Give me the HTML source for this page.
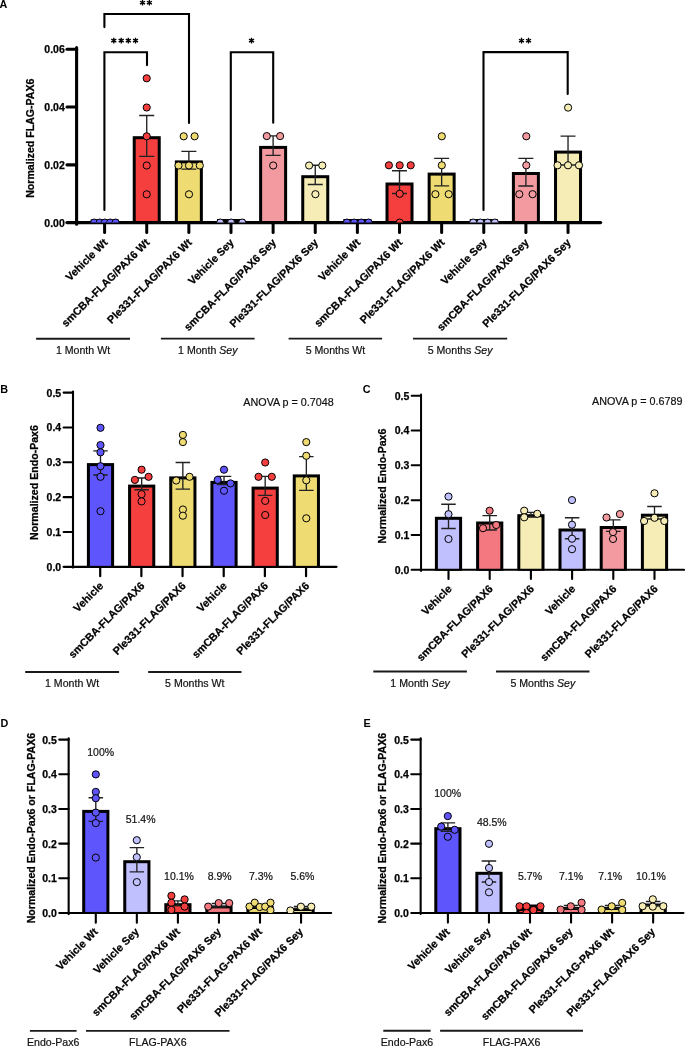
<!DOCTYPE html>
<html><head><meta charset="utf-8"><style>
html,body{margin:0;padding:0;background:#fff;}
svg{display:block;will-change:transform;}
text{font-family:"Liberation Sans", sans-serif;}
.pl{font-size:10.8px;font-weight:bold;fill:#000;}
.tk{font-size:10.5px;font-weight:bold;fill:#000;stroke:#000;stroke-width:0.25px;}
.yl{font-size:10.6px;font-weight:bold;fill:#000;stroke:#000;stroke-width:0.25px;}
.xl{font-size:10.8px;font-weight:bold;fill:#000;stroke:#000;stroke-width:0.25px;}
.gl{font-size:10.6px;fill:#111;stroke:#111;stroke-width:0.2px;}
.an{font-size:10.75px;fill:#111;stroke:#111;stroke-width:0.2px;}
.pc{font-size:10.5px;fill:#111;stroke:#111;stroke-width:0.2px;}
.st{font-size:12px;fill:#000;}
</style></head><body>
<svg width="685" height="1046" viewBox="0 0 685 1046">
<rect width="685" height="1046" fill="#fff"/>
<text x="-0.4" y="8.2" class="pl">A</text>
<clipPath id="cA"><rect x="0" y="0" width="685" height="222.6"/></clipPath>
<line x1="76.6" y1="47.6" x2="76.6" y2="224.3" stroke="#000" stroke-width="3.1" stroke-linecap="round"/>
<line x1="76.6" y1="222.6" x2="600.5" y2="222.6" stroke="#000" stroke-width="3.4" stroke-linecap="round"/>
<line x1="67.00" y1="49.30" x2="76.6" y2="49.30" stroke="#000" stroke-width="3.1" stroke-linecap="round"/>
<text x="64.80" y="53.20" text-anchor="end" class="tk">0.06</text>
<line x1="67.00" y1="107.07" x2="76.6" y2="107.07" stroke="#000" stroke-width="3.1" stroke-linecap="round"/>
<text x="64.80" y="110.97" text-anchor="end" class="tk">0.04</text>
<line x1="67.00" y1="164.83" x2="76.6" y2="164.83" stroke="#000" stroke-width="3.1" stroke-linecap="round"/>
<text x="64.80" y="168.73" text-anchor="end" class="tk">0.02</text>
<line x1="67.00" y1="222.60" x2="76.6" y2="222.60" stroke="#000" stroke-width="3.4" stroke-linecap="round"/>
<text x="64.80" y="226.50" text-anchor="end" class="tk">0.00</text>
<text x="34.4" y="138.2" text-anchor="middle" class="yl" transform="rotate(-90 34.4 138.2)">Normalized FLAG-PAX6</text>
<line x1="104.6" y1="222.6" x2="104.6" y2="232.4" stroke="#000" stroke-width="3" stroke-linecap="round"/>
<line x1="146.73" y1="222.6" x2="146.73" y2="232.4" stroke="#000" stroke-width="3" stroke-linecap="round"/>
<line x1="188.86" y1="222.6" x2="188.86" y2="232.4" stroke="#000" stroke-width="3" stroke-linecap="round"/>
<line x1="230.99" y1="222.6" x2="230.99" y2="232.4" stroke="#000" stroke-width="3" stroke-linecap="round"/>
<line x1="273.12" y1="222.6" x2="273.12" y2="232.4" stroke="#000" stroke-width="3" stroke-linecap="round"/>
<line x1="315.25" y1="222.6" x2="315.25" y2="232.4" stroke="#000" stroke-width="3" stroke-linecap="round"/>
<line x1="357.38" y1="222.6" x2="357.38" y2="232.4" stroke="#000" stroke-width="3" stroke-linecap="round"/>
<line x1="399.51" y1="222.6" x2="399.51" y2="232.4" stroke="#000" stroke-width="3" stroke-linecap="round"/>
<line x1="441.64" y1="222.6" x2="441.64" y2="232.4" stroke="#000" stroke-width="3" stroke-linecap="round"/>
<line x1="483.77" y1="222.6" x2="483.77" y2="232.4" stroke="#000" stroke-width="3" stroke-linecap="round"/>
<line x1="525.9" y1="222.6" x2="525.9" y2="232.4" stroke="#000" stroke-width="3" stroke-linecap="round"/>
<line x1="568.03" y1="222.6" x2="568.03" y2="232.4" stroke="#000" stroke-width="3" stroke-linecap="round"/>
<rect x="90.60" y="219.50" width="28.0" height="4.10" fill="#000"/>
<g clip-path="url(#cA)">
<circle cx="94.2" cy="222.6" r="3.6" fill="#5f55fd" stroke="#000" stroke-width="1"/>
<circle cx="99.7" cy="222.6" r="3.6" fill="#5f55fd" stroke="#000" stroke-width="1"/>
<circle cx="104.9" cy="222.6" r="3.6" fill="#5f55fd" stroke="#000" stroke-width="1"/>
<circle cx="110.2" cy="222.6" r="3.6" fill="#5f55fd" stroke="#000" stroke-width="1"/>
<circle cx="115.60000000000001" cy="222.6" r="3.6" fill="#5f55fd" stroke="#000" stroke-width="1"/>
</g>
<rect x="132.73" y="136.20" width="28.0" height="87.40" fill="#000"/>
<rect x="135.73" y="139.20" width="22.0" height="81.80" fill="#f53f3f"/>
<path d="M146.73 115.5V156.4M139.23 115.5H154.23M139.23 156.4H154.23" stroke="#222" stroke-width="1.35" fill="none"/>
<g clip-path="url(#cA)">
<circle cx="146.70000000000002" cy="78.3" r="3.6" fill="#f53f3f" stroke="#000" stroke-width="1"/>
<circle cx="146.70000000000002" cy="107.5" r="3.6" fill="#f53f3f" stroke="#000" stroke-width="1"/>
<circle cx="146.70000000000002" cy="136.3" r="3.6" fill="#f53f3f" stroke="#000" stroke-width="1"/>
<circle cx="146.70000000000002" cy="165.5" r="3.6" fill="#f53f3f" stroke="#000" stroke-width="1"/>
<circle cx="146.70000000000002" cy="194.3" r="3.6" fill="#f53f3f" stroke="#000" stroke-width="1"/>
</g>
<rect x="174.86" y="160.40" width="28.0" height="63.20" fill="#000"/>
<rect x="177.86" y="163.40" width="22.0" height="57.60" fill="#eedc73"/>
<path d="M188.86 151.3V169.1M181.36 151.3H196.36M181.36 169.1H196.36" stroke="#222" stroke-width="1.35" fill="none"/>
<g clip-path="url(#cA)">
<circle cx="183.70000000000002" cy="136.3" r="3.6" fill="#eedc73" stroke="#000" stroke-width="1"/>
<circle cx="194.6" cy="136.3" r="3.6" fill="#eedc73" stroke="#000" stroke-width="1"/>
<circle cx="178.5" cy="165.5" r="3.6" fill="#eedc73" stroke="#000" stroke-width="1"/>
<circle cx="189.0" cy="165.5" r="3.6" fill="#eedc73" stroke="#000" stroke-width="1"/>
<circle cx="199.8" cy="165.5" r="3.6" fill="#eedc73" stroke="#000" stroke-width="1"/>
<circle cx="189.0" cy="194.3" r="3.6" fill="#eedc73" stroke="#000" stroke-width="1"/>
</g>
<rect x="216.99" y="219.00" width="28.0" height="4.60" fill="#000"/>
<g clip-path="url(#cA)">
<circle cx="220.3" cy="222.6" r="3.6" fill="#c0c0ff" stroke="#000" stroke-width="1"/>
<circle cx="231.1" cy="222.6" r="3.6" fill="#c0c0ff" stroke="#000" stroke-width="1"/>
<circle cx="242.20000000000002" cy="222.6" r="3.6" fill="#c0c0ff" stroke="#000" stroke-width="1"/>
</g>
<rect x="259.12" y="145.90" width="28.0" height="77.70" fill="#000"/>
<rect x="262.12" y="148.90" width="22.0" height="72.10" fill="#f39aa0"/>
<path d="M273.12 135.8V155.4M265.62 135.8H280.62M265.62 155.4H280.62" stroke="#222" stroke-width="1.35" fill="none"/>
<g clip-path="url(#cA)">
<circle cx="266.79999999999995" cy="136.10000000000002" r="3.6" fill="#f39aa0" stroke="#000" stroke-width="1"/>
<circle cx="280.09999999999997" cy="136.10000000000002" r="3.6" fill="#f39aa0" stroke="#000" stroke-width="1"/>
<circle cx="273.2" cy="165.5" r="3.6" fill="#f39aa0" stroke="#000" stroke-width="1"/>
</g>
<rect x="301.25" y="175.20" width="28.0" height="48.40" fill="#000"/>
<rect x="304.25" y="178.20" width="22.0" height="42.80" fill="#f5edb5"/>
<path d="M315.25 165.2V184.5M307.75 165.2H322.75M307.75 184.5H322.75" stroke="#222" stroke-width="1.35" fill="none"/>
<g clip-path="url(#cA)">
<circle cx="309.09999999999997" cy="165.5" r="3.6" fill="#f5edb5" stroke="#000" stroke-width="1"/>
<circle cx="322.29999999999995" cy="165.5" r="3.6" fill="#f5edb5" stroke="#000" stroke-width="1"/>
<circle cx="315.4" cy="194.20000000000002" r="3.6" fill="#f5edb5" stroke="#000" stroke-width="1"/>
</g>
<rect x="343.38" y="219.00" width="28.0" height="4.60" fill="#000"/>
<g clip-path="url(#cA)">
<circle cx="346.9" cy="222.6" r="3.6" fill="#5f55fd" stroke="#000" stroke-width="1"/>
<circle cx="354.09999999999997" cy="222.6" r="3.6" fill="#5f55fd" stroke="#000" stroke-width="1"/>
<circle cx="361.29999999999995" cy="222.6" r="3.6" fill="#5f55fd" stroke="#000" stroke-width="1"/>
<circle cx="368.59999999999997" cy="222.6" r="3.6" fill="#5f55fd" stroke="#000" stroke-width="1"/>
</g>
<rect x="385.51" y="182.50" width="28.0" height="41.10" fill="#000"/>
<rect x="388.51" y="185.50" width="22.0" height="35.50" fill="#f53f3f"/>
<path d="M399.51 170.7V193.5M392.01 170.7H407.01M392.01 193.5H407.01" stroke="#222" stroke-width="1.35" fill="none"/>
<g clip-path="url(#cA)">
<circle cx="388.9" cy="165.3" r="3.6" fill="#f53f3f" stroke="#000" stroke-width="1"/>
<circle cx="399.7" cy="165.3" r="3.6" fill="#f53f3f" stroke="#000" stroke-width="1"/>
<circle cx="410.7" cy="165.3" r="3.6" fill="#f53f3f" stroke="#000" stroke-width="1"/>
<circle cx="399.7" cy="193.8" r="3.6" fill="#f53f3f" stroke="#000" stroke-width="1"/>
<circle cx="399.7" cy="222.6" r="3.6" fill="#f53f3f" stroke="#000" stroke-width="1"/>
</g>
<rect x="427.64" y="172.60" width="28.0" height="51.00" fill="#000"/>
<rect x="430.64" y="175.60" width="22.0" height="45.40" fill="#eedc73"/>
<path d="M441.64 158.4V185.9M434.14 158.4H449.14M434.14 185.9H449.14" stroke="#222" stroke-width="1.35" fill="none"/>
<g clip-path="url(#cA)">
<circle cx="441.79999999999995" cy="136.3" r="3.6" fill="#eedc73" stroke="#000" stroke-width="1"/>
<circle cx="441.79999999999995" cy="165.3" r="3.6" fill="#eedc73" stroke="#000" stroke-width="1"/>
<circle cx="435.4" cy="194.20000000000002" r="3.6" fill="#eedc73" stroke="#000" stroke-width="1"/>
<circle cx="448.7" cy="194.20000000000002" r="3.6" fill="#eedc73" stroke="#000" stroke-width="1"/>
</g>
<rect x="469.77" y="219.00" width="28.0" height="4.60" fill="#000"/>
<g clip-path="url(#cA)">
<circle cx="473.2" cy="222.6" r="3.6" fill="#c0c0ff" stroke="#000" stroke-width="1"/>
<circle cx="480.4" cy="222.6" r="3.6" fill="#c0c0ff" stroke="#000" stroke-width="1"/>
<circle cx="487.7" cy="222.6" r="3.6" fill="#c0c0ff" stroke="#000" stroke-width="1"/>
<circle cx="494.9" cy="222.6" r="3.6" fill="#c0c0ff" stroke="#000" stroke-width="1"/>
</g>
<rect x="511.90" y="172.00" width="28.0" height="51.60" fill="#000"/>
<rect x="514.90" y="175.00" width="22.0" height="46.00" fill="#f39aa0"/>
<path d="M525.9 158.3V186M518.4 158.3H533.4M518.4 186H533.4" stroke="#222" stroke-width="1.35" fill="none"/>
<g clip-path="url(#cA)">
<circle cx="526.3" cy="136.3" r="3.6" fill="#f39aa0" stroke="#000" stroke-width="1"/>
<circle cx="526.3" cy="165.3" r="3.6" fill="#f39aa0" stroke="#000" stroke-width="1"/>
<circle cx="519.3" cy="194.20000000000002" r="3.6" fill="#f39aa0" stroke="#000" stroke-width="1"/>
<circle cx="532.6" cy="194.20000000000002" r="3.6" fill="#f39aa0" stroke="#000" stroke-width="1"/>
</g>
<rect x="554.03" y="150.60" width="28.0" height="73.00" fill="#000"/>
<rect x="557.03" y="153.60" width="22.0" height="67.40" fill="#f5edb5"/>
<path d="M568.03 136.1V165M560.53 136.1H575.53M560.53 165H575.53" stroke="#222" stroke-width="1.35" fill="none"/>
<g clip-path="url(#cA)">
<circle cx="568.1" cy="107.6" r="3.6" fill="#f5edb5" stroke="#000" stroke-width="1"/>
<circle cx="557.5" cy="165.3" r="3.6" fill="#f5edb5" stroke="#000" stroke-width="1"/>
<circle cx="568.0" cy="165.3" r="3.6" fill="#f5edb5" stroke="#000" stroke-width="1"/>
<circle cx="579.0" cy="165.3" r="3.6" fill="#f5edb5" stroke="#000" stroke-width="1"/>
</g>
<path d="M104.4 209.90 V52.2 H147.0 V65.10" fill="none" stroke="#000" stroke-width="2.1" stroke-linecap="round"/>
<path d="M104.4 27.10 V14.0 H189.0 V122.90" fill="none" stroke="#000" stroke-width="2.1" stroke-linecap="round"/>
<path d="M230.8 209.90 V52.3 H273.2 V122.80" fill="none" stroke="#000" stroke-width="2.1" stroke-linecap="round"/>
<path d="M483.5 209.90 V52.1 H567.7 V94.00" fill="none" stroke="#000" stroke-width="2.1" stroke-linecap="round"/>
<path d="M113.80 43.50L113.80 37.70M111.29 42.05L116.31 39.15M116.31 42.05L111.29 39.15" stroke="#000" stroke-width="1.35" fill="none"/>
<path d="M121.20 43.50L121.20 37.70M118.69 42.05L123.71 39.15M123.71 42.05L118.69 39.15" stroke="#000" stroke-width="1.35" fill="none"/>
<path d="M128.30 43.50L128.30 37.70M125.79 42.05L130.81 39.15M130.81 42.05L125.79 39.15" stroke="#000" stroke-width="1.35" fill="none"/>
<path d="M135.50 43.50L135.50 37.70M132.99 42.05L138.01 39.15M138.01 42.05L132.99 39.15" stroke="#000" stroke-width="1.35" fill="none"/>
<path d="M142.50 5.60L142.50 -0.20M139.99 4.15L145.01 1.25M145.01 4.15L139.99 1.25" stroke="#000" stroke-width="1.35" fill="none"/>
<path d="M149.40 5.60L149.40 -0.20M146.89 4.15L151.91 1.25M151.91 4.15L146.89 1.25" stroke="#000" stroke-width="1.35" fill="none"/>
<path d="M251.50 43.50L251.50 37.70M248.99 42.05L254.01 39.15M254.01 42.05L248.99 39.15" stroke="#000" stroke-width="1.35" fill="none"/>
<path d="M521.50 43.60L521.50 37.80M518.99 42.15L524.01 39.25M524.01 42.15L518.99 39.25" stroke="#000" stroke-width="1.35" fill="none"/>
<path d="M528.50 43.60L528.50 37.80M525.99 42.15L531.01 39.25M531.01 42.15L525.99 39.25" stroke="#000" stroke-width="1.35" fill="none"/>
<text x="108.2" y="243.3" text-anchor="end" class="xl" transform="rotate(-45 108.2 243.3)">Vehicle Wt</text>
<text x="150.3" y="243.3" text-anchor="end" class="xl" transform="rotate(-45 150.3 243.3)">smCBA-FLAG/PAX6 Wt</text>
<text x="192.5" y="243.3" text-anchor="end" class="xl" transform="rotate(-45 192.5 243.3)">Ple331-FLAG/PAX6 Wt</text>
<text x="234.6" y="243.3" text-anchor="end" class="xl" transform="rotate(-45 234.6 243.3)">Vehicle Sey</text>
<text x="276.7" y="243.3" text-anchor="end" class="xl" transform="rotate(-45 276.7 243.3)">smCBA-FLAG/PAX6 Sey</text>
<text x="318.8" y="243.3" text-anchor="end" class="xl" transform="rotate(-45 318.8 243.3)">Ple331-FLAG/PAX6 Sey</text>
<text x="361.0" y="243.3" text-anchor="end" class="xl" transform="rotate(-45 361.0 243.3)">Vehicle Wt</text>
<text x="403.1" y="243.3" text-anchor="end" class="xl" transform="rotate(-45 403.1 243.3)">smCBA-FLAG/PAX6 Wt</text>
<text x="445.2" y="243.3" text-anchor="end" class="xl" transform="rotate(-45 445.2 243.3)">Ple331-FLAG/PAX6 Wt</text>
<text x="487.4" y="243.3" text-anchor="end" class="xl" transform="rotate(-45 487.4 243.3)">Vehicle Sey</text>
<text x="529.5" y="243.3" text-anchor="end" class="xl" transform="rotate(-45 529.5 243.3)">smCBA-FLAG/PAX6 Sey</text>
<text x="571.6" y="243.3" text-anchor="end" class="xl" transform="rotate(-45 571.6 243.3)">Ple331-FLAG/PAX6 Sey</text>
<line x1="36.1" y1="338.80" x2="130" y2="338.80" stroke="#1a1a1a" stroke-width="1.9"/>
<text x="83.0" y="353.60" text-anchor="middle" class="gl">1 Month Wt</text>
<line x1="160.9" y1="338.60" x2="254.6" y2="338.60" stroke="#1a1a1a" stroke-width="1.9"/>
<text x="207.8" y="353.60" text-anchor="middle" class="gl">1 Month <tspan font-style="italic">Sey</tspan></text>
<line x1="288.6" y1="338.60" x2="382.1" y2="338.60" stroke="#1a1a1a" stroke-width="1.9"/>
<text x="335.4" y="353.60" text-anchor="middle" class="gl">5 Months Wt</text>
<line x1="413" y1="338.60" x2="507.2" y2="338.60" stroke="#1a1a1a" stroke-width="1.9"/>
<text x="460.1" y="353.60" text-anchor="middle" class="gl">5 Months <tspan font-style="italic">Sey</tspan></text>
<text x="0.3" y="393.0" class="pl">B</text>
<clipPath id="cB"><rect x="0" y="0" width="685" height="566.85"/></clipPath>
<line x1="73.0" y1="391.6" x2="73.0" y2="567.6" stroke="#000" stroke-width="2.1" stroke-linecap="round"/>
<line x1="73.0" y1="566.85" x2="336.5" y2="566.85" stroke="#000" stroke-width="2.3" stroke-linecap="round"/>
<line x1="63.60" y1="392.60" x2="73.0" y2="392.60" stroke="#000" stroke-width="2.1" stroke-linecap="round"/>
<text x="61.20" y="396.50" text-anchor="end" class="tk">0.5</text>
<line x1="63.60" y1="427.45" x2="73.0" y2="427.45" stroke="#000" stroke-width="2.1" stroke-linecap="round"/>
<text x="61.20" y="431.35" text-anchor="end" class="tk">0.4</text>
<line x1="63.60" y1="462.30" x2="73.0" y2="462.30" stroke="#000" stroke-width="2.1" stroke-linecap="round"/>
<text x="61.20" y="466.20" text-anchor="end" class="tk">0.3</text>
<line x1="63.60" y1="497.15" x2="73.0" y2="497.15" stroke="#000" stroke-width="2.1" stroke-linecap="round"/>
<text x="61.20" y="501.05" text-anchor="end" class="tk">0.2</text>
<line x1="63.60" y1="532.00" x2="73.0" y2="532.00" stroke="#000" stroke-width="2.1" stroke-linecap="round"/>
<text x="61.20" y="535.90" text-anchor="end" class="tk">0.1</text>
<line x1="63.60" y1="566.85" x2="73.0" y2="566.85" stroke="#000" stroke-width="2.3" stroke-linecap="round"/>
<text x="61.20" y="570.75" text-anchor="end" class="tk">0.0</text>
<text x="38.0" y="482.5" text-anchor="middle" class="yl" transform="rotate(-90 38.0 482.5)">Normalized Endo-Pax6</text>
<text x="333.7" y="405.5" text-anchor="end" class="an">ANOVA p = 0.7048</text>
<line x1="100.2" y1="566.85" x2="100.2" y2="576.2" stroke="#000" stroke-width="2.2" stroke-linecap="round"/>
<line x1="141.37" y1="566.85" x2="141.37" y2="576.2" stroke="#000" stroke-width="2.2" stroke-linecap="round"/>
<line x1="182.54000000000002" y1="566.85" x2="182.54000000000002" y2="576.2" stroke="#000" stroke-width="2.2" stroke-linecap="round"/>
<line x1="223.71" y1="566.85" x2="223.71" y2="576.2" stroke="#000" stroke-width="2.2" stroke-linecap="round"/>
<line x1="264.88" y1="566.85" x2="264.88" y2="576.2" stroke="#000" stroke-width="2.2" stroke-linecap="round"/>
<line x1="306.05" y1="566.85" x2="306.05" y2="576.2" stroke="#000" stroke-width="2.2" stroke-linecap="round"/>
<rect x="86.90" y="463.10" width="27.2" height="104.75" fill="#000"/>
<rect x="89.90" y="466.10" width="21.2" height="99.75" fill="#5f55fd"/>
<path d="M100.5 450.9V475.0M93.25 450.9H107.75M93.25 475.0H107.75" stroke="#222" stroke-width="1.35" fill="none"/>
<g clip-path="url(#cB)">
<circle cx="100.5" cy="427.79999999999995" r="3.6" fill="#5f55fd" stroke="#000" stroke-width="1"/>
<circle cx="100.5" cy="445.09999999999997" r="3.6" fill="#5f55fd" stroke="#000" stroke-width="1"/>
<circle cx="100.5" cy="452.29999999999995" r="3.6" fill="#5f55fd" stroke="#000" stroke-width="1"/>
<circle cx="100.5" cy="466.2" r="3.6" fill="#5f55fd" stroke="#000" stroke-width="1"/>
<circle cx="100.5" cy="476.79999999999995" r="3.6" fill="#5f55fd" stroke="#000" stroke-width="1"/>
<circle cx="100.5" cy="511.2" r="3.6" fill="#5f55fd" stroke="#000" stroke-width="1"/>
</g>
<rect x="128.07" y="484.60" width="27.2" height="83.25" fill="#000"/>
<rect x="131.07" y="487.60" width="21.2" height="78.25" fill="#f53f3f"/>
<path d="M141.67000000000002 478.0V489.7M134.42000000000002 478.0H148.92000000000002M134.42000000000002 489.7H148.92000000000002" stroke="#222" stroke-width="1.35" fill="none"/>
<g clip-path="url(#cB)">
<circle cx="141.60000000000002" cy="469.7" r="3.6" fill="#f53f3f" stroke="#000" stroke-width="1"/>
<circle cx="134.9" cy="479.9" r="3.6" fill="#f53f3f" stroke="#000" stroke-width="1"/>
<circle cx="148.60000000000002" cy="476.79999999999995" r="3.6" fill="#f53f3f" stroke="#000" stroke-width="1"/>
<circle cx="141.60000000000002" cy="494.2" r="3.6" fill="#f53f3f" stroke="#000" stroke-width="1"/>
<circle cx="141.60000000000002" cy="501.4" r="3.6" fill="#f53f3f" stroke="#000" stroke-width="1"/>
</g>
<rect x="169.24" y="476.40" width="27.2" height="91.45" fill="#000"/>
<rect x="172.24" y="479.40" width="21.2" height="86.45" fill="#eedc73"/>
<path d="M182.84000000000003 462.5V489.1M175.59000000000003 462.5H190.09000000000003M175.59000000000003 489.1H190.09000000000003" stroke="#222" stroke-width="1.35" fill="none"/>
<g clip-path="url(#cB)">
<circle cx="182.9" cy="434.9" r="3.6" fill="#eedc73" stroke="#000" stroke-width="1"/>
<circle cx="182.9" cy="442.09999999999997" r="3.6" fill="#eedc73" stroke="#000" stroke-width="1"/>
<circle cx="176.20000000000002" cy="480.5" r="3.6" fill="#eedc73" stroke="#000" stroke-width="1"/>
<circle cx="189.5" cy="476.79999999999995" r="3.6" fill="#eedc73" stroke="#000" stroke-width="1"/>
<circle cx="182.9" cy="509.5" r="3.6" fill="#eedc73" stroke="#000" stroke-width="1"/>
<circle cx="182.9" cy="515.6999999999999" r="3.6" fill="#eedc73" stroke="#000" stroke-width="1"/>
</g>
<rect x="210.41" y="480.90" width="27.2" height="86.95" fill="#000"/>
<rect x="213.41" y="483.90" width="21.2" height="81.95" fill="#5f55fd"/>
<path d="M224.01000000000002 476.4V484.6M216.76000000000002 476.4H231.26000000000002M216.76000000000002 484.6H231.26000000000002" stroke="#222" stroke-width="1.35" fill="none"/>
<g clip-path="url(#cB)">
<circle cx="224.0" cy="469.7" r="3.6" fill="#5f55fd" stroke="#000" stroke-width="1"/>
<circle cx="217.70000000000002" cy="479.9" r="3.6" fill="#5f55fd" stroke="#000" stroke-width="1"/>
<circle cx="230.5" cy="483.4" r="3.6" fill="#5f55fd" stroke="#000" stroke-width="1"/>
<circle cx="224.0" cy="490.7" r="3.6" fill="#5f55fd" stroke="#000" stroke-width="1"/>
</g>
<rect x="251.58" y="486.60" width="27.2" height="81.25" fill="#000"/>
<rect x="254.58" y="489.60" width="21.2" height="76.25" fill="#f53f3f"/>
<path d="M265.18 476.4V495.4M257.93 476.4H272.43M257.93 495.4H272.43" stroke="#222" stroke-width="1.35" fill="none"/>
<g clip-path="url(#cB)">
<circle cx="265.2" cy="462.5" r="3.6" fill="#f53f3f" stroke="#000" stroke-width="1"/>
<circle cx="258.5" cy="476.79999999999995" r="3.6" fill="#f53f3f" stroke="#000" stroke-width="1"/>
<circle cx="271.8" cy="476.79999999999995" r="3.6" fill="#f53f3f" stroke="#000" stroke-width="1"/>
<circle cx="265.2" cy="500.9" r="3.6" fill="#f53f3f" stroke="#000" stroke-width="1"/>
<circle cx="265.2" cy="515.0" r="3.6" fill="#f53f3f" stroke="#000" stroke-width="1"/>
</g>
<rect x="292.75" y="474.40" width="27.2" height="93.45" fill="#000"/>
<rect x="295.75" y="477.40" width="21.2" height="88.45" fill="#eedc73"/>
<path d="M306.35 456.6V490.3M299.1 456.6H313.6M299.1 490.3H313.6" stroke="#222" stroke-width="1.35" fill="none"/>
<g clip-path="url(#cB)">
<circle cx="306.3" cy="442.09999999999997" r="3.6" fill="#eedc73" stroke="#000" stroke-width="1"/>
<circle cx="306.3" cy="455.79999999999995" r="3.6" fill="#eedc73" stroke="#000" stroke-width="1"/>
<circle cx="306.3" cy="480.29999999999995" r="3.6" fill="#eedc73" stroke="#000" stroke-width="1"/>
<circle cx="306.3" cy="518.3" r="3.6" fill="#eedc73" stroke="#000" stroke-width="1"/>
</g>
<text x="104.1" y="586.4" text-anchor="end" class="xl" transform="rotate(-45 104.1 586.4)">Vehicle</text>
<text x="145.3" y="586.4" text-anchor="end" class="xl" transform="rotate(-45 145.3 586.4)">smCBA-FLAG/PAX6</text>
<text x="186.4" y="586.4" text-anchor="end" class="xl" transform="rotate(-45 186.4 586.4)">Ple331-FLAG/PAX6</text>
<text x="227.6" y="586.4" text-anchor="end" class="xl" transform="rotate(-45 227.6 586.4)">Vehicle</text>
<text x="268.8" y="586.4" text-anchor="end" class="xl" transform="rotate(-45 268.8 586.4)">smCBA-FLAG/PAX6</text>
<text x="309.9" y="586.4" text-anchor="end" class="xl" transform="rotate(-45 309.9 586.4)">Ple331-FLAG/PAX6</text>
<line x1="25.2" y1="672.00" x2="119.1" y2="672.00" stroke="#1a1a1a" stroke-width="1.9"/>
<text x="72.1" y="686.60" text-anchor="middle" class="gl">1 Month Wt</text>
<line x1="148.2" y1="672.00" x2="241.5" y2="672.00" stroke="#1a1a1a" stroke-width="1.9"/>
<text x="194.8" y="686.60" text-anchor="middle" class="gl">5 Months Wt</text>
<text x="362.7" y="393.0" class="pl">C</text>
<clipPath id="cC"><rect x="0" y="0" width="685" height="569.75"/></clipPath>
<line x1="421.05" y1="394.5" x2="421.05" y2="570.9" stroke="#000" stroke-width="2.0" stroke-linecap="round"/>
<line x1="421.05" y1="569.75" x2="684.0" y2="569.75" stroke="#000" stroke-width="2.2" stroke-linecap="round"/>
<line x1="411.65" y1="395.70" x2="421.05" y2="395.70" stroke="#000" stroke-width="2.0" stroke-linecap="round"/>
<text x="409.25" y="399.60" text-anchor="end" class="tk">0.5</text>
<line x1="411.65" y1="430.51" x2="421.05" y2="430.51" stroke="#000" stroke-width="2.0" stroke-linecap="round"/>
<text x="409.25" y="434.41" text-anchor="end" class="tk">0.4</text>
<line x1="411.65" y1="465.32" x2="421.05" y2="465.32" stroke="#000" stroke-width="2.0" stroke-linecap="round"/>
<text x="409.25" y="469.22" text-anchor="end" class="tk">0.3</text>
<line x1="411.65" y1="500.13" x2="421.05" y2="500.13" stroke="#000" stroke-width="2.0" stroke-linecap="round"/>
<text x="409.25" y="504.03" text-anchor="end" class="tk">0.2</text>
<line x1="411.65" y1="534.94" x2="421.05" y2="534.94" stroke="#000" stroke-width="2.0" stroke-linecap="round"/>
<text x="409.25" y="538.84" text-anchor="end" class="tk">0.1</text>
<line x1="411.65" y1="569.75" x2="421.05" y2="569.75" stroke="#000" stroke-width="2.2" stroke-linecap="round"/>
<text x="409.25" y="573.65" text-anchor="end" class="tk">0.0</text>
<text x="385.8" y="486.0" text-anchor="middle" class="yl" transform="rotate(-90 385.8 486.0)">Normalized Endo-Pax6</text>
<text x="682.4" y="405.3" text-anchor="end" class="an">ANOVA p = 0.6789</text>
<line x1="448.5" y1="569.75" x2="448.5" y2="579.0" stroke="#000" stroke-width="2.1" stroke-linecap="round"/>
<line x1="489.7" y1="569.75" x2="489.7" y2="579.0" stroke="#000" stroke-width="2.1" stroke-linecap="round"/>
<line x1="530.9" y1="569.75" x2="530.9" y2="579.0" stroke="#000" stroke-width="2.1" stroke-linecap="round"/>
<line x1="572.1" y1="569.75" x2="572.1" y2="579.0" stroke="#000" stroke-width="2.1" stroke-linecap="round"/>
<line x1="613.3" y1="569.75" x2="613.3" y2="579.0" stroke="#000" stroke-width="2.1" stroke-linecap="round"/>
<line x1="654.5" y1="569.75" x2="654.5" y2="579.0" stroke="#000" stroke-width="2.1" stroke-linecap="round"/>
<rect x="434.90" y="516.80" width="27.2" height="53.95" fill="#000"/>
<rect x="437.90" y="519.80" width="21.2" height="48.95" fill="#c0c0ff"/>
<path d="M448.5 504.2V528.5M441.25 504.2H455.75M441.25 528.5H455.75" stroke="#222" stroke-width="1.35" fill="none"/>
<g clip-path="url(#cC)">
<circle cx="448.5" cy="496.6" r="3.6" fill="#c0c0ff" stroke="#000" stroke-width="1"/>
<circle cx="448.5" cy="514.2" r="3.6" fill="#c0c0ff" stroke="#000" stroke-width="1"/>
<circle cx="448.5" cy="539.0" r="3.6" fill="#c0c0ff" stroke="#000" stroke-width="1"/>
</g>
<rect x="476.10" y="521.50" width="27.2" height="49.25" fill="#000"/>
<rect x="479.10" y="524.50" width="21.2" height="44.25" fill="#f47880"/>
<path d="M489.7 515.6V530.0M482.45 515.6H496.95M482.45 530.0H496.95" stroke="#222" stroke-width="1.35" fill="none"/>
<g clip-path="url(#cC)">
<circle cx="489.6" cy="510.7" r="3.6" fill="#f47880" stroke="#000" stroke-width="1"/>
<circle cx="483.0" cy="528.2" r="3.6" fill="#f47880" stroke="#000" stroke-width="1"/>
<circle cx="496.2" cy="525.0" r="3.6" fill="#f47880" stroke="#000" stroke-width="1"/>
</g>
<rect x="517.30" y="514.20" width="27.2" height="56.55" fill="#000"/>
<rect x="520.30" y="517.20" width="21.2" height="51.55" fill="#f5edb5"/>
<path d="M530.9 512.4V517.0M523.65 512.4H538.15M523.65 517.0H538.15" stroke="#222" stroke-width="1.35" fill="none"/>
<g clip-path="url(#cC)">
<circle cx="524.2" cy="510.7" r="3.6" fill="#f5edb5" stroke="#000" stroke-width="1"/>
<circle cx="524.2" cy="517.3" r="3.6" fill="#f5edb5" stroke="#000" stroke-width="1"/>
<circle cx="537.3" cy="513.8" r="3.6" fill="#f5edb5" stroke="#000" stroke-width="1"/>
</g>
<rect x="558.50" y="528.50" width="27.2" height="42.25" fill="#000"/>
<rect x="561.50" y="531.50" width="21.2" height="37.25" fill="#c0c0ff"/>
<path d="M572.1 517.7V538.7M564.85 517.7H579.35M564.85 538.7H579.35" stroke="#222" stroke-width="1.35" fill="none"/>
<g clip-path="url(#cC)">
<circle cx="572.0" cy="500.1" r="3.6" fill="#c0c0ff" stroke="#000" stroke-width="1"/>
<circle cx="572.0" cy="524.7" r="3.6" fill="#c0c0ff" stroke="#000" stroke-width="1"/>
<circle cx="572.0" cy="538.7" r="3.6" fill="#c0c0ff" stroke="#000" stroke-width="1"/>
<circle cx="572.0" cy="549.2" r="3.6" fill="#c0c0ff" stroke="#000" stroke-width="1"/>
</g>
<rect x="599.70" y="526.00" width="27.2" height="44.75" fill="#000"/>
<rect x="602.70" y="529.00" width="21.2" height="39.75" fill="#f39aa0"/>
<path d="M613.3 519.8V531.3M606.05 519.8H620.55M606.05 531.3H620.55" stroke="#222" stroke-width="1.35" fill="none"/>
<g clip-path="url(#cC)">
<circle cx="606.5" cy="517.5" r="3.6" fill="#f39aa0" stroke="#000" stroke-width="1"/>
<circle cx="619.9" cy="514.1" r="3.6" fill="#f39aa0" stroke="#000" stroke-width="1"/>
<circle cx="613.0" cy="532.1" r="3.6" fill="#f39aa0" stroke="#000" stroke-width="1"/>
<circle cx="613.0" cy="539.0" r="3.6" fill="#f39aa0" stroke="#000" stroke-width="1"/>
</g>
<rect x="640.90" y="513.70" width="27.2" height="57.05" fill="#000"/>
<rect x="643.90" y="516.70" width="21.2" height="52.05" fill="#f5edb5"/>
<path d="M654.5 506.5V519.0M647.25 506.5H661.75M647.25 519.0H661.75" stroke="#222" stroke-width="1.35" fill="none"/>
<g clip-path="url(#cC)">
<circle cx="654.5" cy="493.3" r="3.6" fill="#f5edb5" stroke="#000" stroke-width="1"/>
<circle cx="654.5" cy="517.8" r="3.6" fill="#f5edb5" stroke="#000" stroke-width="1"/>
<circle cx="644.1" cy="521.0" r="3.6" fill="#f5edb5" stroke="#000" stroke-width="1"/>
<circle cx="664.3" cy="521.0" r="3.6" fill="#f5edb5" stroke="#000" stroke-width="1"/>
</g>
<text x="452.4" y="589.4" text-anchor="end" class="xl" transform="rotate(-45 452.4 589.4)">Vehicle</text>
<text x="493.6" y="589.4" text-anchor="end" class="xl" transform="rotate(-45 493.6 589.4)">smCBA-FLAG/PAX6</text>
<text x="534.8" y="589.4" text-anchor="end" class="xl" transform="rotate(-45 534.8 589.4)">Ple331-FLAG/PAX6</text>
<text x="576.0" y="589.4" text-anchor="end" class="xl" transform="rotate(-45 576.0 589.4)">Vehicle</text>
<text x="617.2" y="589.4" text-anchor="end" class="xl" transform="rotate(-45 617.2 589.4)">smCBA-FLAG/PAX6</text>
<text x="658.4" y="589.4" text-anchor="end" class="xl" transform="rotate(-45 658.4 589.4)">Ple331-FLAG/PAX6</text>
<line x1="373.3" y1="671.50" x2="466.9" y2="671.50" stroke="#1a1a1a" stroke-width="1.9"/>
<text x="420.1" y="686.80" text-anchor="middle" class="gl">1 Month <tspan font-style="italic">Sey</tspan></text>
<line x1="496.0" y1="671.50" x2="589.5" y2="671.50" stroke="#1a1a1a" stroke-width="1.9"/>
<text x="542.8" y="686.80" text-anchor="middle" class="gl">5 Months <tspan font-style="italic">Sey</tspan></text>
<text x="0.5" y="727.1" class="pl">D</text>
<clipPath id="cD"><rect x="0" y="0" width="685" height="912.95"/></clipPath>
<line x1="68.65" y1="738.3" x2="68.65" y2="914.2" stroke="#000" stroke-width="2.1" stroke-linecap="round"/>
<line x1="68.65" y1="912.95" x2="331.2" y2="912.95" stroke="#000" stroke-width="2.0" stroke-linecap="round"/>
<line x1="59.25" y1="739.60" x2="68.65" y2="739.60" stroke="#000" stroke-width="2.1" stroke-linecap="round"/>
<text x="56.85" y="743.50" text-anchor="end" class="tk">0.5</text>
<line x1="59.25" y1="774.27" x2="68.65" y2="774.27" stroke="#000" stroke-width="2.1" stroke-linecap="round"/>
<text x="56.85" y="778.17" text-anchor="end" class="tk">0.4</text>
<line x1="59.25" y1="808.94" x2="68.65" y2="808.94" stroke="#000" stroke-width="2.1" stroke-linecap="round"/>
<text x="56.85" y="812.84" text-anchor="end" class="tk">0.3</text>
<line x1="59.25" y1="843.61" x2="68.65" y2="843.61" stroke="#000" stroke-width="2.1" stroke-linecap="round"/>
<text x="56.85" y="847.51" text-anchor="end" class="tk">0.2</text>
<line x1="59.25" y1="878.28" x2="68.65" y2="878.28" stroke="#000" stroke-width="2.1" stroke-linecap="round"/>
<text x="56.85" y="882.18" text-anchor="end" class="tk">0.1</text>
<line x1="59.25" y1="912.95" x2="68.65" y2="912.95" stroke="#000" stroke-width="2.0" stroke-linecap="round"/>
<text x="56.85" y="916.85" text-anchor="end" class="tk">0.0</text>
<text x="34.7" y="828.1" text-anchor="middle" class="yl" transform="rotate(-90 34.7 828.1)">Normalized Endo-Pax6 or FLAG-PAX6</text>
<line x1="95.8" y1="912.95" x2="95.8" y2="922.7" stroke="#000" stroke-width="2.1" stroke-linecap="round"/>
<line x1="136.85" y1="912.95" x2="136.85" y2="922.7" stroke="#000" stroke-width="2.1" stroke-linecap="round"/>
<line x1="177.89999999999998" y1="912.95" x2="177.89999999999998" y2="922.7" stroke="#000" stroke-width="2.1" stroke-linecap="round"/>
<line x1="218.95" y1="912.95" x2="218.95" y2="922.7" stroke="#000" stroke-width="2.1" stroke-linecap="round"/>
<line x1="260.0" y1="912.95" x2="260.0" y2="922.7" stroke="#000" stroke-width="2.1" stroke-linecap="round"/>
<line x1="301.05" y1="912.95" x2="301.05" y2="922.7" stroke="#000" stroke-width="2.1" stroke-linecap="round"/>
<rect x="82.20" y="809.90" width="27.2" height="104.05" fill="#000"/>
<rect x="85.20" y="812.90" width="21.2" height="99.05" fill="#5f55fd"/>
<path d="M95.8 797.7V821.3M88.55 797.7H103.05M88.55 821.3H103.05" stroke="#222" stroke-width="1.35" fill="none"/>
<g clip-path="url(#cD)">
<circle cx="95.8" cy="774.4" r="3.6" fill="#5f55fd" stroke="#000" stroke-width="1"/>
<circle cx="95.8" cy="791.9" r="3.6" fill="#5f55fd" stroke="#000" stroke-width="1"/>
<circle cx="95.8" cy="798.2" r="3.6" fill="#5f55fd" stroke="#000" stroke-width="1"/>
<circle cx="95.8" cy="812.6" r="3.6" fill="#5f55fd" stroke="#000" stroke-width="1"/>
<circle cx="95.8" cy="823.1" r="3.6" fill="#5f55fd" stroke="#000" stroke-width="1"/>
<circle cx="95.8" cy="857.6" r="3.6" fill="#5f55fd" stroke="#000" stroke-width="1"/>
</g>
<rect x="123.25" y="860.20" width="27.2" height="53.75" fill="#000"/>
<rect x="126.25" y="863.20" width="21.2" height="48.75" fill="#c0c0ff"/>
<path d="M136.85 847.6V871.8M129.6 847.6H144.1M129.6 871.8H144.1" stroke="#222" stroke-width="1.35" fill="none"/>
<g clip-path="url(#cD)">
<circle cx="136.8" cy="840.2" r="3.6" fill="#c0c0ff" stroke="#000" stroke-width="1"/>
<circle cx="136.8" cy="857.2" r="3.6" fill="#c0c0ff" stroke="#000" stroke-width="1"/>
<circle cx="136.8" cy="882.1" r="3.6" fill="#c0c0ff" stroke="#000" stroke-width="1"/>
</g>
<rect x="164.30" y="903.20" width="27.2" height="10.75" fill="#000"/>
<rect x="167.30" y="906.20" width="21.2" height="5.75" fill="#f53f3f"/>
<path d="M177.89999999999998 900.8V905.5M170.64999999999998 900.8H185.14999999999998M170.64999999999998 905.5H185.14999999999998" stroke="#222" stroke-width="1.35" fill="none"/>
<g clip-path="url(#cD)">
<circle cx="171.4" cy="895.8000000000001" r="3.6" fill="#f53f3f" stroke="#000" stroke-width="1"/>
<circle cx="171.4" cy="902.7" r="3.6" fill="#f53f3f" stroke="#000" stroke-width="1"/>
<circle cx="171.4" cy="909.9" r="3.6" fill="#f53f3f" stroke="#000" stroke-width="1"/>
<circle cx="184.6" cy="899.4" r="3.6" fill="#f53f3f" stroke="#000" stroke-width="1"/>
<circle cx="184.6" cy="906.6" r="3.6" fill="#f53f3f" stroke="#000" stroke-width="1"/>
</g>
<rect x="205.35" y="905.40" width="27.2" height="8.55" fill="#000"/>
<rect x="208.35" y="908.40" width="21.2" height="3.55" fill="#f47880"/>
<path d="M218.95 903.5V907M211.7 903.5H226.2M211.7 907H226.2" stroke="#222" stroke-width="1.35" fill="none"/>
<g clip-path="url(#cD)">
<circle cx="208.2" cy="906.6" r="3.6" fill="#f47880" stroke="#000" stroke-width="1"/>
<circle cx="218.7" cy="903.1" r="3.6" fill="#f47880" stroke="#000" stroke-width="1"/>
<circle cx="229.2" cy="903.1" r="3.6" fill="#f47880" stroke="#000" stroke-width="1"/>
</g>
<rect x="246.40" y="906.00" width="27.2" height="7.95" fill="#000"/>
<rect x="249.40" y="909.00" width="21.2" height="2.95" fill="#eedc73"/>
<path d="M260.0 904.5V907M252.75 904.5H267.25M252.75 907H267.25" stroke="#222" stroke-width="1.35" fill="none"/>
<g clip-path="url(#cD)">
<circle cx="249.5" cy="906.6" r="3.6" fill="#eedc73" stroke="#000" stroke-width="1"/>
<circle cx="254.7" cy="902.7" r="3.6" fill="#eedc73" stroke="#000" stroke-width="1"/>
<circle cx="259.7" cy="907.0" r="3.6" fill="#eedc73" stroke="#000" stroke-width="1"/>
<circle cx="265.2" cy="906.6" r="3.6" fill="#eedc73" stroke="#000" stroke-width="1"/>
<circle cx="270.5" cy="902.7" r="3.6" fill="#eedc73" stroke="#000" stroke-width="1"/>
<circle cx="270.5" cy="910.2" r="3.6" fill="#eedc73" stroke="#000" stroke-width="1"/>
</g>
<rect x="287.45" y="908.00" width="27.2" height="5.95" fill="#000"/>
<rect x="290.45" y="911.00" width="21.2" height="0.95" fill="#f5edb5"/>
<path d="M301.05 906.5V908.5M293.8 906.5H308.3M293.8 908.5H308.3" stroke="#222" stroke-width="1.35" fill="none"/>
<g clip-path="url(#cD)">
<circle cx="290.4" cy="910.5" r="3.6" fill="#f5edb5" stroke="#000" stroke-width="1"/>
<circle cx="300.9" cy="906.7" r="3.6" fill="#f5edb5" stroke="#000" stroke-width="1"/>
<circle cx="311.3" cy="906.7" r="3.6" fill="#f5edb5" stroke="#000" stroke-width="1"/>
</g>
<text x="98.6" y="932.5" text-anchor="end" class="xl" transform="rotate(-45 98.6 932.5)">Vehicle Wt</text>
<text x="139.7" y="932.5" text-anchor="end" class="xl" transform="rotate(-45 139.7 932.5)">Vehicle Sey</text>
<text x="180.7" y="932.5" text-anchor="end" class="xl" transform="rotate(-45 180.7 932.5)">smCBA-FLAG/PAX6 Wt</text>
<text x="221.8" y="932.5" text-anchor="end" class="xl" transform="rotate(-45 221.8 932.5)">smCBA-FLAG/PAX6 Sey</text>
<text x="262.8" y="932.5" text-anchor="end" class="xl" transform="rotate(-45 262.8 932.5)">Ple331-FLAG-PAX6 Wt</text>
<text x="303.8" y="932.5" text-anchor="end" class="xl" transform="rotate(-45 303.8 932.5)">Ple331-FLAG/PAX6 Sey</text>
<text x="100.7" y="756.4" text-anchor="middle" class="pc">100%</text>
<text x="140.6" y="823.1" text-anchor="middle" class="pc">51.4%</text>
<text x="179.0" y="879.7" text-anchor="middle" class="pc">10.1%</text>
<text x="219.7" y="879.7" text-anchor="middle" class="pc">8.9%</text>
<text x="260.9" y="879.7" text-anchor="middle" class="pc">7.3%</text>
<text x="302.4" y="879.7" text-anchor="middle" class="pc">5.6%</text>
<line x1="29.9" y1="1030.90" x2="76.6" y2="1030.90" stroke="#1a1a1a" stroke-width="1.9"/>
<text x="53.2" y="1046.10" text-anchor="middle" class="gl">Endo-Pax6</text>
<line x1="86.0" y1="1030.90" x2="229.5" y2="1030.90" stroke="#1a1a1a" stroke-width="1.9"/>
<text x="157.8" y="1046.10" text-anchor="middle" class="gl">FLAG-PAX6</text>
<text x="363.5" y="726.6" class="pl">E</text>
<clipPath id="cE"><rect x="0" y="0" width="685" height="913.0"/></clipPath>
<line x1="420.65" y1="738.3" x2="420.65" y2="914.0" stroke="#000" stroke-width="2.1" stroke-linecap="round"/>
<line x1="420.65" y1="913.0" x2="683.5" y2="913.0" stroke="#000" stroke-width="2.0" stroke-linecap="round"/>
<line x1="411.25" y1="739.60" x2="420.65" y2="739.60" stroke="#000" stroke-width="2.1" stroke-linecap="round"/>
<text x="408.85" y="743.50" text-anchor="end" class="tk">0.5</text>
<line x1="411.25" y1="774.28" x2="420.65" y2="774.28" stroke="#000" stroke-width="2.1" stroke-linecap="round"/>
<text x="408.85" y="778.18" text-anchor="end" class="tk">0.4</text>
<line x1="411.25" y1="808.96" x2="420.65" y2="808.96" stroke="#000" stroke-width="2.1" stroke-linecap="round"/>
<text x="408.85" y="812.86" text-anchor="end" class="tk">0.3</text>
<line x1="411.25" y1="843.64" x2="420.65" y2="843.64" stroke="#000" stroke-width="2.1" stroke-linecap="round"/>
<text x="408.85" y="847.54" text-anchor="end" class="tk">0.2</text>
<line x1="411.25" y1="878.32" x2="420.65" y2="878.32" stroke="#000" stroke-width="2.1" stroke-linecap="round"/>
<text x="408.85" y="882.22" text-anchor="end" class="tk">0.1</text>
<line x1="411.25" y1="913.00" x2="420.65" y2="913.00" stroke="#000" stroke-width="2.0" stroke-linecap="round"/>
<text x="408.85" y="916.90" text-anchor="end" class="tk">0.0</text>
<text x="385.7" y="828.1" text-anchor="middle" class="yl" transform="rotate(-90 385.7 828.1)">Normalized Endo-Pax6 or FLAG-PAX6</text>
<line x1="447.9" y1="913.0" x2="447.9" y2="922.6" stroke="#000" stroke-width="2.1" stroke-linecap="round"/>
<line x1="488.95" y1="913.0" x2="488.95" y2="922.6" stroke="#000" stroke-width="2.1" stroke-linecap="round"/>
<line x1="530.0" y1="913.0" x2="530.0" y2="922.6" stroke="#000" stroke-width="2.1" stroke-linecap="round"/>
<line x1="571.05" y1="913.0" x2="571.05" y2="922.6" stroke="#000" stroke-width="2.1" stroke-linecap="round"/>
<line x1="612.0999999999999" y1="913.0" x2="612.0999999999999" y2="922.6" stroke="#000" stroke-width="2.1" stroke-linecap="round"/>
<line x1="653.15" y1="913.0" x2="653.15" y2="922.6" stroke="#000" stroke-width="2.1" stroke-linecap="round"/>
<rect x="434.30" y="827.20" width="27.2" height="86.80" fill="#000"/>
<rect x="437.30" y="830.20" width="21.2" height="81.80" fill="#5f55fd"/>
<path d="M447.9 822.8V831.2M440.65 822.8H455.15M440.65 831.2H455.15" stroke="#222" stroke-width="1.35" fill="none"/>
<g clip-path="url(#cE)">
<circle cx="447.8" cy="816.1" r="3.6" fill="#5f55fd" stroke="#000" stroke-width="1"/>
<circle cx="441.2" cy="826.6" r="3.6" fill="#5f55fd" stroke="#000" stroke-width="1"/>
<circle cx="454.7" cy="829.8" r="3.6" fill="#5f55fd" stroke="#000" stroke-width="1"/>
<circle cx="447.8" cy="836.8" r="3.6" fill="#5f55fd" stroke="#000" stroke-width="1"/>
</g>
<rect x="475.35" y="871.80" width="27.2" height="42.20" fill="#000"/>
<rect x="478.35" y="874.80" width="21.2" height="37.20" fill="#c0c0ff"/>
<path d="M488.95 861.0V882.0M481.7 861.0H496.2M481.7 882.0H496.2" stroke="#222" stroke-width="1.35" fill="none"/>
<g clip-path="url(#cE)">
<circle cx="489.0" cy="843.8" r="3.6" fill="#c0c0ff" stroke="#000" stroke-width="1"/>
<circle cx="489.0" cy="868.0" r="3.6" fill="#c0c0ff" stroke="#000" stroke-width="1"/>
<circle cx="489.0" cy="882.0" r="3.6" fill="#c0c0ff" stroke="#000" stroke-width="1"/>
<circle cx="489.0" cy="892.3" r="3.6" fill="#c0c0ff" stroke="#000" stroke-width="1"/>
</g>
<rect x="516.40" y="904.50" width="27.2" height="9.50" fill="#000"/>
<rect x="519.40" y="911.00" width="21.2" height="1.00" fill="#f53f3f"/>
<path d="M530.0 907.5V911.0M522.75 907.5H537.25M522.75 911.0H537.25" stroke="#222" stroke-width="1.35" fill="none"/>
<g clip-path="url(#cE)">
<circle cx="519.5" cy="906.3" r="3.6" fill="#f53f3f" stroke="#000" stroke-width="1"/>
<circle cx="526.5" cy="906.3" r="3.6" fill="#f53f3f" stroke="#000" stroke-width="1"/>
<circle cx="533.4" cy="910.0" r="3.6" fill="#f53f3f" stroke="#000" stroke-width="1"/>
<circle cx="540.5" cy="906.3" r="3.6" fill="#f53f3f" stroke="#000" stroke-width="1"/>
<circle cx="526.5" cy="913.0" r="3.6" fill="#f53f3f" stroke="#000" stroke-width="1"/>
</g>
<rect x="557.45" y="907.00" width="27.2" height="7.00" fill="#000"/>
<rect x="560.45" y="910.00" width="21.2" height="2.00" fill="#f47880"/>
<path d="M571.05 905.5V908.5M563.8 905.5H578.3M563.8 908.5H578.3" stroke="#222" stroke-width="1.35" fill="none"/>
<g clip-path="url(#cE)">
<circle cx="560.6" cy="909.6" r="3.6" fill="#f47880" stroke="#000" stroke-width="1"/>
<circle cx="570.8" cy="906.3" r="3.6" fill="#f47880" stroke="#000" stroke-width="1"/>
<circle cx="581.6" cy="902.7" r="3.6" fill="#f47880" stroke="#000" stroke-width="1"/>
<circle cx="581.6" cy="909.9" r="3.6" fill="#f47880" stroke="#000" stroke-width="1"/>
</g>
<rect x="598.50" y="907.00" width="27.2" height="7.00" fill="#000"/>
<rect x="601.50" y="910.00" width="21.2" height="2.00" fill="#eedc73"/>
<path d="M612.0999999999999 905.5V908.5M604.8499999999999 905.5H619.3499999999999M604.8499999999999 908.5H619.3499999999999" stroke="#222" stroke-width="1.35" fill="none"/>
<g clip-path="url(#cE)">
<circle cx="601.6" cy="909.6" r="3.6" fill="#eedc73" stroke="#000" stroke-width="1"/>
<circle cx="611.7" cy="906.3" r="3.6" fill="#eedc73" stroke="#000" stroke-width="1"/>
<circle cx="622.2" cy="902.9" r="3.6" fill="#eedc73" stroke="#000" stroke-width="1"/>
<circle cx="622.2" cy="909.9" r="3.6" fill="#eedc73" stroke="#000" stroke-width="1"/>
</g>
<rect x="639.55" y="903.50" width="27.2" height="10.50" fill="#000"/>
<rect x="642.55" y="906.50" width="21.2" height="5.50" fill="#f5edb5"/>
<path d="M653.15 901.5V905.5M645.9 901.5H660.4M645.9 905.5H660.4" stroke="#222" stroke-width="1.35" fill="none"/>
<g clip-path="url(#cE)">
<circle cx="642.6" cy="906.2" r="3.6" fill="#f5edb5" stroke="#000" stroke-width="1"/>
<circle cx="652.8" cy="899.3" r="3.6" fill="#f5edb5" stroke="#000" stroke-width="1"/>
<circle cx="652.8" cy="906.6" r="3.6" fill="#f5edb5" stroke="#000" stroke-width="1"/>
<circle cx="663.3" cy="906.2" r="3.6" fill="#f5edb5" stroke="#000" stroke-width="1"/>
</g>
<text x="450.5" y="932.6" text-anchor="end" class="xl" transform="rotate(-45 450.5 932.6)">Vehicle Wt</text>
<text x="491.5" y="932.6" text-anchor="end" class="xl" transform="rotate(-45 491.5 932.6)">Vehicle Sey</text>
<text x="532.6" y="932.6" text-anchor="end" class="xl" transform="rotate(-45 532.6 932.6)">smCBA-FLAG/PAX6 Wt</text>
<text x="573.6" y="932.6" text-anchor="end" class="xl" transform="rotate(-45 573.6 932.6)">smCBA-FLAG/PAX6 Sey</text>
<text x="614.7" y="932.6" text-anchor="end" class="xl" transform="rotate(-45 614.7 932.6)">Ple331-FLAG-PAX6 Wt</text>
<text x="655.8" y="932.6" text-anchor="end" class="xl" transform="rotate(-45 655.8 932.6)">Ple331-FLAG/PAX6 Sey</text>
<text x="447.7" y="797.1" text-anchor="middle" class="pc">100%</text>
<text x="491.8" y="826.3" text-anchor="middle" class="pc">48.5%</text>
<text x="530.0" y="879.7" text-anchor="middle" class="pc">5.7%</text>
<text x="571.0" y="879.7" text-anchor="middle" class="pc">7.1%</text>
<text x="610.1" y="879.7" text-anchor="middle" class="pc">7.1%</text>
<text x="650.9" y="879.7" text-anchor="middle" class="pc">10.1%</text>
<line x1="383.3" y1="1030.70" x2="430.6" y2="1030.70" stroke="#1a1a1a" stroke-width="1.9"/>
<text x="407.0" y="1046.10" text-anchor="middle" class="gl">Endo-Pax6</text>
<line x1="440.1" y1="1030.70" x2="583.0" y2="1030.70" stroke="#1a1a1a" stroke-width="1.9"/>
<text x="511.6" y="1046.10" text-anchor="middle" class="gl">FLAG-PAX6</text>
</svg>
</body></html>
